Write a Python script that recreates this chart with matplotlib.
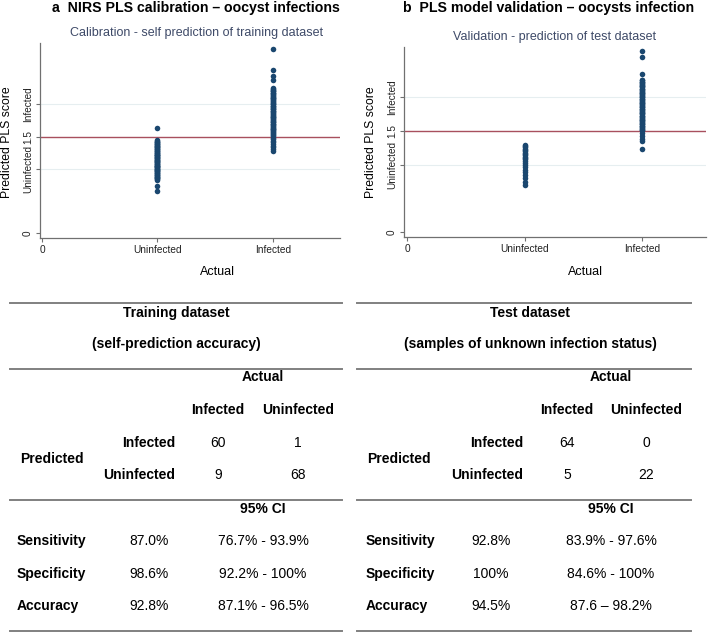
import matplotlib
matplotlib.use('Agg')
import matplotlib.pyplot as plt
from matplotlib.lines import Line2D

plt.rcParams['font.family'] = ['Liberation Sans', 'DejaVu Sans']

# predicted PLS scores
train_infected = [2.85, 2.53, 2.44, 2.38,
                  2.25, 2.24, 2.22, 2.21, 2.20, 2.18, 2.17, 2.16, 2.14, 2.13,
                  2.12, 2.10, 2.09, 2.08, 2.06, 2.05, 2.04, 2.02, 2.01, 2.00,
                  1.98, 1.97, 1.96, 1.94, 1.93, 1.92, 1.90, 1.89, 1.88, 1.86,
                  1.85, 1.84, 1.82, 1.81, 1.80, 1.78, 1.77, 1.76, 1.74, 1.73,
                  1.72, 1.70, 1.69, 1.68, 1.66, 1.65, 1.64, 1.62, 1.61, 1.60,
                  1.58, 1.57, 1.56, 1.54, 1.53, 1.51,
                  1.48, 1.46, 1.43, 1.41, 1.38, 1.36, 1.33, 1.30, 1.27]
train_uninfected = [1.64,
                    1.44, 1.43, 1.42, 1.41, 1.40, 1.39, 1.38, 1.37, 1.36, 1.35,
                    1.34, 1.33, 1.32, 1.31, 1.30, 1.29, 1.28, 1.27, 1.26, 1.25,
                    1.24, 1.23, 1.22, 1.21, 1.20, 1.19, 1.18, 1.17, 1.16, 1.15,
                    1.14, 1.13, 1.12, 1.11, 1.10, 1.09, 1.08, 1.07, 1.06, 1.05,
                    1.04, 1.03, 1.02, 1.01, 1.00, 0.99, 0.98, 0.97, 0.96, 0.95,
                    0.94, 0.93, 0.92, 0.91, 0.90, 0.89, 0.88, 0.87, 0.86, 0.85,
                    0.84, 0.83, 1.21, 1.12, 1.05, 0.98, 0.74, 0.66]
test_infected = [2.68, 2.60, 2.35,
                 2.26, 2.25, 2.23, 2.22, 2.21, 2.20, 2.18, 2.17, 2.16, 2.15,
                 2.13, 2.12, 2.11, 2.10, 2.08, 2.07, 2.06, 2.05, 2.03, 2.02,
                 2.01, 2.00, 1.98, 1.97, 1.96, 1.95, 1.93, 1.92, 1.91, 1.90,
                 1.88, 1.87, 1.86, 1.85, 1.83, 1.82, 1.81, 1.80, 1.78, 1.77,
                 1.76, 1.75, 1.73, 1.72, 1.71, 1.70, 1.68, 1.67, 1.66, 1.65,
                 1.63, 1.62, 1.61, 1.60, 1.58, 1.57, 1.56, 1.55, 1.53, 1.52,
                 1.51, 1.47, 1.43, 1.38, 1.35, 1.24]
test_uninfected = [1.30, 1.28, 1.26, 1.24, 1.22, 1.20, 1.18, 1.16, 1.14, 1.12,
                   1.10, 1.08, 1.06, 1.03, 1.00, 0.97, 0.93, 0.89, 0.85, 0.80,
                   0.75, 0.70]

cutoff = 1.5
ytick_vals = [0, 1, 1.5, 2]
ytick_labels = ['0', 'Uninfected', '1.5', 'Infected']
xtick_vals = [0, 1, 2]
xtick_labels = ['0', 'Uninfected', 'Infected']

# tables
table_titles = [('Training dataset', '(self-prediction accuracy)'),
                ('Test dataset', '(samples of unknown infection status)')]
conf_train = [[60, 1], [9, 68]]
conf_test = [[64, 0], [5, 22]]
stat_names = ['Sensitivity', 'Specificity', 'Accuracy']
stats_train = ['87.0%', '98.6%', '92.8%']
ci_train = ['76.7% - 93.9%', '92.2% - 100%', '87.1% - 96.5%']
stats_test = ['92.8%', '100%', '94.5%']
ci_test = ['83.9% - 97.6%', '84.6% - 100%', '87.6 \u2013 98.2%']

navy = '#1a476f'
redline = '#a8505e'
grid_c = '#e6eef0'
axis_c = '#707070'
sub_c = '#3e4a68'

W, H = 708, 632
fig = plt.figure(figsize=(W / 100, H / 100), dpi=100)


def px_axes(l, t, r, b):
    return fig.add_axes([l / W, 1 - b / H, (r - l) / W, (b - t) / H])


def scatter_panel(ax, infected, uninfected, xlim, ylim):
    ax.set_xlim(*xlim)
    ax.set_ylim(*ylim)
    for yv in [1, 2]:
        ax.axhline(yv, color=grid_c, lw=0.8, zorder=0)
    ax.axhline(cutoff, color=redline, lw=1.0, zorder=1)
    ax.scatter([1] * len(uninfected), uninfected, s=16, color=navy, zorder=2, lw=0)
    ax.scatter([2] * len(infected), infected, s=16, color=navy, zorder=2, lw=0)
    for s in ['top', 'right']:
        ax.spines[s].set_visible(False)
    for s in ['left', 'bottom']:
        ax.spines[s].set_color(axis_c)
        ax.spines[s].set_linewidth(0.9)
    ax.set_yticks(ytick_vals)
    ax.set_yticklabels(ytick_labels, rotation=90, va='center', fontsize=7.2)
    ax.set_xticks(xtick_vals)
    ax.set_xticklabels(xtick_labels, fontsize=7.3)
    ax.tick_params(colors=axis_c, length=3, width=0.8, labelcolor='#222222', pad=2)


ax_a = px_axes(40, 43, 340, 238)
scatter_panel(ax_a, train_infected, train_uninfected, (-0.017, 2.58), (-0.073, 2.95))
ax_b = px_axes(404, 47, 706, 237)
scatter_panel(ax_b, test_infected, test_uninfected, (-0.026, 2.545), (-0.07, 2.745))

# overlay in pixel coordinates for titles and tables
ov = fig.add_axes([0, 0, 1, 1], zorder=5)
ov.set_xlim(0, W)
ov.set_ylim(H, 0)
ov.axis('off')
ov.patch.set_alpha(0)

ov.text(196, 8, 'a  NIRS PLS calibration \u2013 oocyst infections', ha='center', va='center',
        fontsize=10.2, fontweight='bold')
ov.text(549, 8, 'b  PLS model validation \u2013 oocysts infection', ha='center', va='center',
        fontsize=10.2, fontweight='bold')
ov.text(197, 33, 'Calibration - self prediction of training dataset', ha='center', va='center',
        fontsize=9, color=sub_c)
ov.text(555, 37, 'Validation - prediction of test dataset', ha='center', va='center',
        fontsize=9, color=sub_c)
ov.text(7, 142, 'Predicted PLS score', rotation=90, ha='center', va='center', fontsize=8.8)
ov.text(371, 142, 'Predicted PLS score', rotation=90, ha='center', va='center', fontsize=8.8)
ov.text(217, 272, 'Actual', ha='center', va='center', fontsize=9)
ov.text(585, 272, 'Actual', ha='center', va='center', fontsize=9)


def table(x0, x1, title, conf, stats, ci, cols):
    # cols: title centre, actual centre, col1, col2, row label centres, predicted centre,
    #       stat value centre, left text
    tc, ac, c1, c2, rl, pc, sv, lx = cols
    for yl in [303, 369, 500, 631]:
        ov.add_line(Line2D([x0, x1], [yl, yl], color='#808080', lw=1.4))
    kw = dict(ha='center', va='center', fontsize=10, fontweight='bold')
    ov.text(tc, 313, title[0], **kw)
    ov.text(tc, 344, title[1], **kw)
    ov.text(ac, 377, 'Actual', **kw)
    ov.text(c1, 410, 'Infected', **kw)
    ov.text(c2, 410, 'Uninfected', **kw)
    ov.text(pc, 459, 'Predicted', **kw)
    row_names = ['Infected', 'Uninfected']
    row_y = [443, 475]
    for i in range(2):
        ov.text(rl[i], row_y[i], row_names[i], **kw)
        ov.text(c1, row_y[i], str(conf[i][0]), ha='center', va='center', fontsize=10)
        ov.text(c2, row_y[i], str(conf[i][1]), ha='center', va='center', fontsize=10)
    ov.text(ac, 509, '95% CI', **kw)
    for i, yv in enumerate([541, 574, 606]):
        ov.text(lx, yv, stat_names[i], ha='left', va='center', fontsize=10, fontweight='bold')
        ov.text(sv, yv, stats[i], ha='center', va='center', fontsize=10)
        ov.text(ac, yv, ci[i], ha='center', va='center', fontsize=10)


table(10, 342, table_titles[0], conf_train, stats_train, ci_train,
      (176, 263, 218, 298, (149, 139), 52, 149, 17))
table(357, 691, table_titles[1], conf_test, stats_test, ci_test,
      (530, 611, 567, 646, (497, 487), 399, 491, 366))

fig.savefig('out.png', dpi=100)
